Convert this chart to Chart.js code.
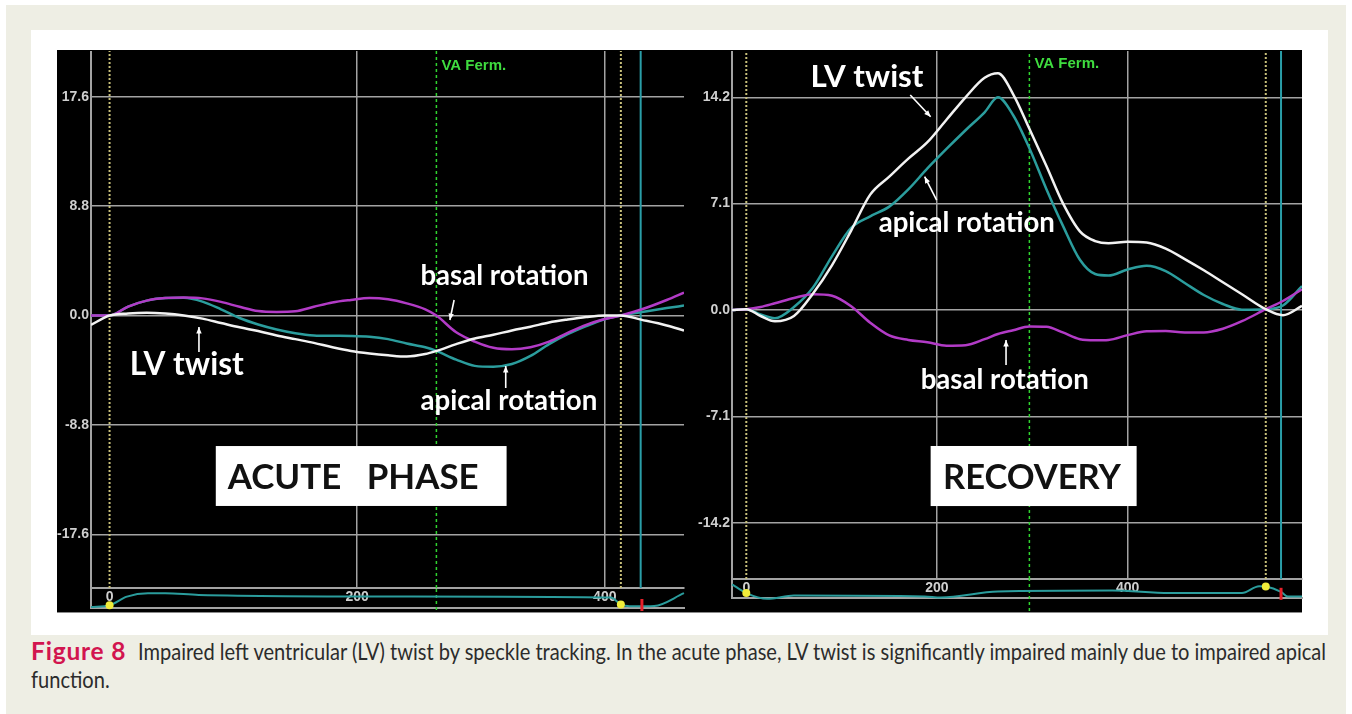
<!DOCTYPE html>
<html>
<head>
<meta charset="utf-8">
<title>Impaired LV twist by speckle tracking</title>
<script src="https://cdn.jsdelivr.net/npm/chart.js@4.4.1/dist/chart.umd.min.js"></script>
<style>
  html, body { margin: 0; padding: 0; background: #fff; }
  body { position: relative; width: 1352px; height: 714px; overflow: hidden; }
  #frame { position: absolute; left: 6px; top: 5px; width: 1340px; height: 709px; background: #eeeee4; }
  #sheet { position: absolute; left: 31px; top: 30px; width: 1297px; height: 605px; background: #fff; }
  #screen { position: absolute; left: 57px; top: 50px; width: 1245px; height: 562px; background: #000; border-bottom: 1px solid #8a8a8a; }
  canvas { position: absolute; }
  #caption { position: absolute; left: 31px; top: 637px; font-family: Lato, sans-serif; font-size: 23px; line-height: 28px; color: #2b2b2b; white-space: nowrap; }
  #fig { display: inline-block; width: 107px; color: #d2154f; font-weight: bold; font-size: 24.5px; letter-spacing: 0.8px; }
  .sq { display: inline-block; transform-origin: 0 0; }
</style>
</head>
<body>
<div id="frame"></div>
<div id="sheet"></div>
<div id="screen"></div>
<canvas id="leftMain" width="629" height="539" style="left:57px;top:51px"></canvas>
<canvas id="leftEcg" width="629" height="25" style="left:57px;top:588px"></canvas>
<canvas id="rightMain" width="617" height="530" style="left:686px;top:51px"></canvas>
<canvas id="rightEcg" width="617" height="34" style="left:686px;top:579px"></canvas>
<div id="caption"><div><span id="fig">Figure 8</span><span id="rest1" class="sq">Impaired left ventricular (LV) twist by speckle tracking. In the acute phase, LV twist is significantly impaired mainly due to impaired apical</span></div><div><span class="sq">function.</span></div></div>

<script>
// time in ms, rotation in degrees

// acute phase
const leftTime = [-15, 0, 15, 30, 45, 60, 75, 90, 105, 120, 135, 150, 165, 180, 195, 210, 225, 240, 255, 264, 280, 295, 310, 325, 340, 355, 370, 385, 400, 413, 430, 450, 464];
const leftTwist = [-0.75, 0, 0.17, 0.23, 0.16, 0, -0.25, -0.6, -0.95, -1.25, -1.6, -1.9, -2.2, -2.55, -2.85, -3.05, -3.2, -3.3, -3.1, -2.85, -2.3, -1.85, -1.55, -1.2, -0.9, -0.56, -0.32, -0.12, 0, 0, -0.35, -0.8, -1.2];
const leftApical = [0, 0, 0.72, 1.2, 1.4, 1.42, 1.12, 0.5, -0.2, -0.72, -1.12, -1.42, -1.6, -1.63, -1.64, -1.7, -1.9, -2.25, -2.55, -2.85, -3.55, -4.05, -4.12, -3.9, -3.25, -2.3, -1.5, -0.85, -0.3, 0, 0.28, 0.6, 0.8];
const leftBasal = [0, 0, 0.72, 1.2, 1.4, 1.44, 1.38, 1.1, 0.7, 0.36, 0.29, 0.34, 0.7, 1.05, 1.25, 1.4, 1.3, 0.98, 0.5, 0, -1.35, -2.1, -2.6, -2.72, -2.55, -2.1, -1.4, -0.75, -0.28, 0, 0.5, 1.25, 1.85];
const leftYTicks = [-17.6, -8.8, 0, 8.8, 17.6];

// recovery
const rightTime = [-15, 0, 15, 30, 50, 70, 90, 110, 130, 150, 170, 190, 210, 230, 250, 264, 280, 297, 315, 332, 350, 366, 380, 400, 420, 440, 460, 480, 500, 520, 545, 563, 583];
const rightTwist = [0, 0.05, -0.4, -0.75, -0.4, 1.1, 3.0, 5.3, 7.7, 8.9, 10.1, 11.2, 12.7, 14.2, 15.5, 15.8, 14.4, 12.1, 9.6, 7.15, 5.25, 4.6, 4.45, 4.55, 4.5, 4.1, 3.4, 2.65, 1.85, 1.05, 0.05, -0.35, 0.27];
const rightApical = [0, 0.05, -0.3, -0.55, 0.2, 1.5, 3.6, 5.48, 6.25, 6.9, 8.05, 9.45, 10.75, 12.0, 13.2, 14.2, 13.0, 10.8, 8.05, 5.65, 3.35, 2.4, 2.3, 2.7, 2.95, 2.6, 1.8, 1.0, 0.4, 0.02, 0.05, 0.3, 1.6];
const rightBasal = [0, 0.05, 0.2, 0.45, 0.8, 1.05, 0.95, 0.25, -0.85, -1.7, -2.0, -2.15, -2.38, -2.35, -1.95, -1.6, -1.35, -1.1, -1.12, -1.5, -1.95, -2.02, -2.0, -1.68, -1.42, -1.4, -1.5, -1.5, -1.25, -0.75, 0.05, 0.6, 1.38];
const rightYTicks = [-14.2, -7.1, 0, 7.1, 14.2];

const gridTimes = [200, 400];
const ecgTicks = [0, 200, 400];

// event markers (ms)
const leftYellow = [0, 413], leftGreen = [264], leftCyan = [429];
const rightYellow = [0, 545], rightGreen = [297], rightCyan = [561];

// ECG strip (relative amplitude, 0 = strip floor, 1 = strip top)
const leftEcgTime = [-15, 0, 14, 31, 45, 72, 240, 405, 413, 420, 433, 440, 464];
const leftEcgValue = [0.05, 0.14, 0.57, 0.74, 0.74, 0.65, 0.57, 0.52, 0.18, 0.09, 0.09, 0.1, 0.74];
const leftDotTime = [0, 413], leftDotValue = [0.14, 0.18];
const leftRTime = [430], leftRValue = [0.15];

const rightEcgTime = [-15, 0, 22, 50, 187, 204, 264, 384, 444, 520, 538, 545, 561, 568, 583];
const rightEcgValue = [0.72, 0.26, -0.04, 0.13, 0.08, 0.02, 0.34, 0.39, 0.26, 0.26, 0.62, 0.6, 0.32, 0.08, 0.08];
const rightDotTime = [0, 545], rightDotValue = [0.26, 0.6];
const rightRTime = [561], rightRValue = [0.22];

const GRID = '#a3a3a3';
const TICK_FONT = { family: '"Liberation Sans", Arial, sans-serif', size: 14, weight: 'bold' };
const TICK_COLOR = '#cfcfcf';

function pairs(t, v) {
    return t.map((x, i) => ({ x: x, y: v[i] }));
}

function curve(label, t, v, color) {
    return {
        label: label,
        data: pairs(t, v),
        borderColor: color,
        borderWidth: 2.5,
        pointRadius: 0,
        cubicInterpolationMode: 'monotone'
    };
}

function markerLines(times, y0, y1, color, dash, width) {
    return times.map(t => ({
        data: [{ x: t, y: y0 }, { x: t, y: y1 }],
        borderColor: color,
        borderWidth: width,
        borderDash: dash,
        pointRadius: 0,
        clip: false
    }));
}

// fixed axis size, no label overhang padding
function fixSize(size) {
    return scale => {
        if (scale.isHorizontal()) scale.height = size; else scale.width = size;
        scale.paddingLeft = scale.paddingRight = scale.paddingTop = scale.paddingBottom = 0;
    };
}

function setTicks(values) {
    return scale => { scale.ticks = values.map(v => ({ value: v })); };
}

function fitFont(ctx, text, weight, width) {
    ctx.font = weight + ' 100px Lato';
    return weight + ' ' + (100 * width / ctx.measureText(text).width).toFixed(1) + 'px Lato';
}

function drawArrow(ctx, x0, y0, x1, y1) {
    const a = Math.atan2(y1 - y0, x1 - x0);
    ctx.beginPath();
    ctx.moveTo(x0, y0);
    ctx.lineTo(x1, y1);
    ctx.stroke();
    ctx.beginPath();
    ctx.moveTo(x1, y1);
    ctx.lineTo(x1 - 7 * Math.cos(a - 0.4), y1 - 7 * Math.sin(a - 0.4));
    ctx.lineTo(x1 - 7 * Math.cos(a + 0.4), y1 - 7 * Math.sin(a + 0.4));
    ctx.closePath();
    ctx.fill();
}

// text labels, arrows and the phase box, placed in data coordinates
function notesPlugin(notes) {
    return {
        id: 'notes',
        afterDatasetsDraw(chart) {
            const { ctx, scales: { x, y } } = chart;
            const px = v => x.getPixelForValue(v);
            const py = v => y.getPixelForValue(v);
            ctx.save();
            ctx.textAlign = 'center';
            ctx.textBaseline = 'alphabetic';

            const b = notes.box;
            ctx.fillStyle = '#fff';
            ctx.fillRect(px(b.x0), py(b.y0), px(b.x1) - px(b.x0), py(b.y1) - py(b.y0));
            ctx.fillStyle = '#111';
            ctx.font = fitFont(ctx, b.text, 'bold', b.width);
            ctx.fillText(b.text, px(b.tx), py(b.ty));

            ctx.fillStyle = '#fff';
            ctx.strokeStyle = '#fff';
            ctx.lineWidth = 1.6;
            notes.labels.forEach(l => {
                ctx.font = fitFont(ctx, l.text, 'bold', l.width);
                ctx.fillText(l.text, px(l.x), py(l.y));
            });
            notes.arrows.forEach(a => drawArrow(ctx, px(a[0]), py(a[1]), px(a[2]), py(a[3])));

            ctx.textAlign = 'left';
            ctx.fillStyle = '#3fdc3f';
            ctx.font = 'bold 15px "Liberation Sans", Arial, sans-serif';
            ctx.fillText(notes.flag.text, px(notes.flag.x) + 5, py(notes.flag.y));
            ctx.restore();
        }
    };
}

function screenChart(id, s) {
    const datasets = [
        curve('LV twist', s.time, s.twist, '#f2f2f2'),
        curve('basal rotation', s.time, s.basal, '#b23bc6'),
        curve('apical rotation', s.time, s.apical, '#2b9d9d'),
        ...markerLines(s.cyan, s.yMin, s.yMax, '#2a9ea8', [], 2),
        ...markerLines(s.green, s.yMin, s.yMax, '#2fd42f', [3, 3], 1.5),
        ...markerLines(s.yellow, s.yMin, s.yMax, '#c8c07a', [2, 2], 2)
    ];
    return new Chart(document.getElementById(id), {
        type: 'line',
        data: { datasets: datasets },
        options: {
            responsive: false,
            animation: false,
            events: [],
            layout: { autoPadding: false, padding: { right: s.padRight } },
            plugins: { legend: { display: false }, tooltip: { enabled: false } },
            scales: {
                x: {
                    type: 'linear',
                    min: -15,
                    max: s.xMax,
                    afterBuildTicks: setTicks(gridTimes),
                    afterFit: fixSize(2),
                    ticks: { display: false },
                    grid: { color: GRID, lineWidth: 1.5, drawTicks: false },
                    border: { display: true, color: GRID, width: 2 }
                },
                y: {
                    min: s.yMin,
                    max: s.yMax,
                    afterBuildTicks: setTicks(s.yTicks),
                    afterFit: fixSize(s.axisW),
                    ticks: { color: TICK_COLOR, font: TICK_FONT, padding: 2, callback: v => v.toFixed(1) },
                    grid: { color: GRID, lineWidth: 1.5, drawTicks: false },
                    border: { color: GRID, width: 2 }
                }
            }
        },
        plugins: [notesPlugin(s.notes)]
    });
}

function ecgChart(id, e) {
    return new Chart(document.getElementById(id), {
        type: 'line',
        data: {
            datasets: [
                { data: pairs(e.rTime, e.rValue), showLine: false, pointStyle: 'line', pointRotation: 90,
                  pointRadius: 6, pointBorderColor: '#e8202a', pointBorderWidth: 3, clip: false },
                { data: pairs(e.dotTime, e.dotValue), showLine: false, pointRadius: 4,
                  pointBackgroundColor: '#f0ec3a', pointBorderWidth: 0, clip: false },
                { data: pairs(e.time, e.value), borderColor: '#2a9c9c', borderWidth: 2, pointRadius: 0,
                  cubicInterpolationMode: 'monotone', clip: false },
                ...markerLines(e.green, -1, 1, '#2fd42f', [3, 3], 1.5)
            ]
        },
        options: {
            responsive: false,
            animation: false,
            events: [],
            layout: { autoPadding: false, padding: { right: e.padRight } },
            plugins: { legend: { display: false }, tooltip: { enabled: false } },
            scales: {
                x: {
                    type: 'linear',
                    min: -15,
                    max: e.xMax,
                    afterBuildTicks: setTicks(ecgTicks),
                    afterFit: fixSize(e.axisH),
                    ticks: { color: TICK_COLOR, font: TICK_FONT, mirror: true, padding: e.labelPad,
                             maxRotation: 0, autoSkip: false },
                    grid: { display: false, drawTicks: false },
                    border: { display: true, color: GRID, width: 2 }
                },
                y: {
                    min: 0,
                    max: 1,
                    afterFit: fixSize(e.axisW),
                    ticks: { display: false },
                    grid: { display: false, drawTicks: false },
                    border: { color: GRID, width: 2 }
                }
            }
        }
    });
}

screenChart('leftMain', {
    time: leftTime, twist: leftTwist, apical: leftApical, basal: leftBasal,
    yTicks: leftYTicks, yMin: -21.92, yMax: 21.28, xMax: 464, axisW: 34, padRight: 2,
    yellow: leftYellow, green: leftGreen, cyan: leftCyan,
    notes: {
        labels: [
            { text: 'basal rotation', x: 319, y: 2.45, width: 168 },
            { text: 'LV twist', x: 62.4, y: -4.79, width: 114 },
            { text: 'apical rotation', x: 322.5, y: -7.6, width: 177 }
        ],
        arrows: [[278.3, 1.25, 274.9, -0.36], [72.2, -2.94, 72.2, -0.93], [320, -5.83, 320, -4.06]],
        box: { x0: 85.8, y0: -10.5, x1: 320.7, y1: -15.32, text: 'ACUTE   PHASE', tx: 196.8, ty: -13.98, width: 251 },
        flag: { text: 'VA Ferm.', x: 264, y: 19.75 }
    }
});

ecgChart('leftEcg', {
    time: leftEcgTime, value: leftEcgValue, dotTime: leftDotTime, dotValue: leftDotValue,
    rTime: leftRTime, rValue: leftRValue, green: leftGreen,
    xMax: 464, axisW: 34, axisH: 5, padRight: 2, labelPad: 2
});

screenChart('rightMain', {
    time: rightTime, twist: rightTwist, apical: rightApical, basal: rightBasal,
    yTicks: rightYTicks, yMin: -17.96, yMax: 17.29, xMax: 583, axisW: 46, padRight: 1,
    yellow: rightYellow, green: rightGreen, cyan: rightCyan,
    notes: {
        labels: [
            { text: 'LV twist', x: 126.6, y: 14.9, width: 113 },
            { text: 'apical rotation', x: 231.3, y: 5.23, width: 176 },
            { text: 'basal rotation', x: 271.1, y: -5.29, width: 168 }
        ],
        arrows: [[172, 14.35, 193.4, 12.9], [199.7, 7.34, 187.1, 8.9], [272.5, -3.67, 272.5, -2.0]],
        box: { x0: 193.4, y0: -9.08, x1: 409.5, y1: -13.09, text: 'RECOVERY', tx: 299.7, ty: -11.97, width: 178 },
        flag: { text: 'VA Ferm.', x: 297, y: 16.17 }
    }
});

ecgChart('rightEcg', {
    time: rightEcgTime, value: rightEcgValue, dotTime: rightDotTime, dotValue: rightDotValue,
    rTime: rightRTime, rValue: rightRValue, green: rightGreen,
    xMax: 583, axisW: 46, axisH: 15, padRight: 1, labelPad: 1.5
});

// squeeze the caption body so the first line ends where the original does
const rest1 = document.getElementById('rest1');
const squeeze = 'scaleX(' + (1188 / rest1.getBoundingClientRect().width).toFixed(4) + ')';
document.querySelectorAll('.sq').forEach(el => { el.style.transform = squeeze; });
</script>
</body>
</html>
